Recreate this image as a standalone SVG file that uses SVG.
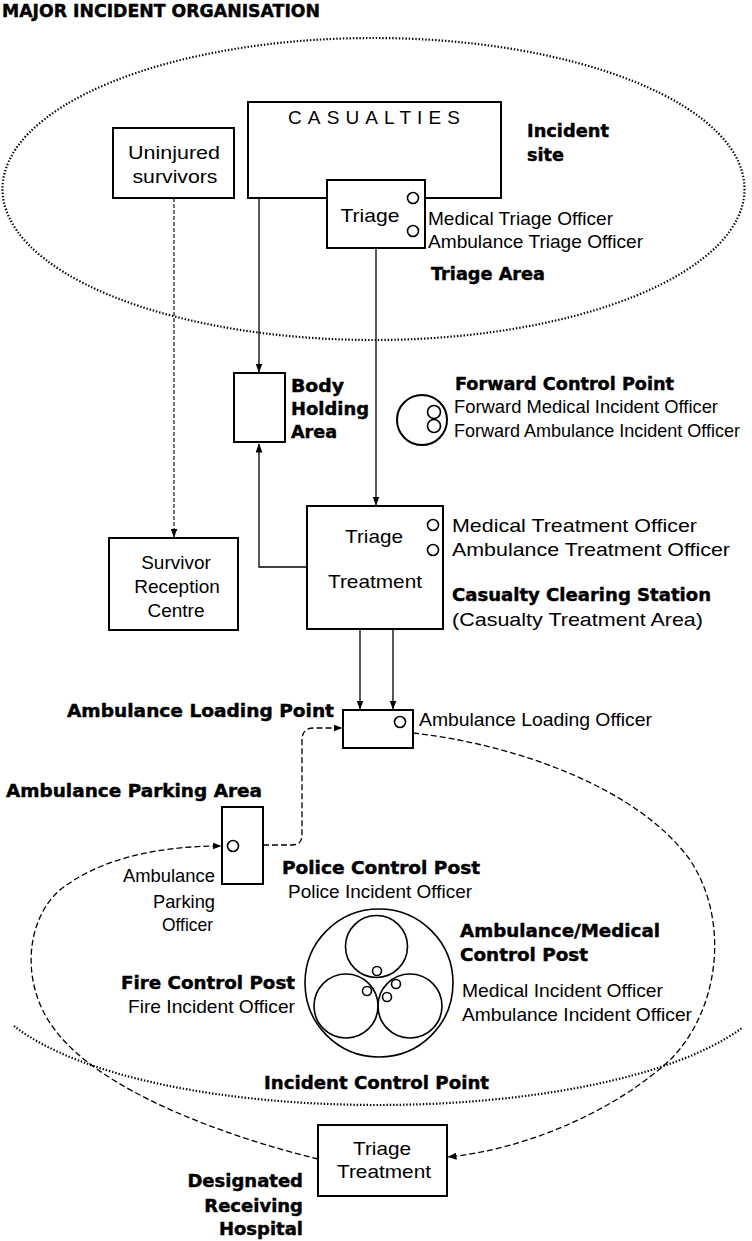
<svg xmlns="http://www.w3.org/2000/svg" width="752" height="1241" viewBox="0 0 752 1241">
  <style>
    .box { fill: #fff; stroke: #000; stroke-width: 2; }
    .ring { fill: none; stroke: #000; stroke-width: 1.6; }
    .ln { fill: none; stroke: #000; stroke-width: 1.3; }
    .dash { fill: none; stroke: #000; stroke-width: 1.3; stroke-dasharray: 6 3; }
    .fine { fill: none; stroke: #000; stroke-width: 1.1; stroke-dasharray: 4 2; }
    .dot { fill: none; stroke: #000; stroke-width: 2.2; stroke-dasharray: 1.4 1.9; }
    .t { font-family: "Liberation Sans", Arial, sans-serif; font-size: 19px; fill: #000; }
    .b { font-family: "DejaVu Sans", "Liberation Sans", sans-serif; font-weight: bold; font-size: 18px; fill: #000; stroke: #000; stroke-width: 0.45; }
  </style>
  <defs>
    <marker id="arr" markerUnits="userSpaceOnUse" markerWidth="9" markerHeight="7" refX="8.5" refY="3.5" orient="auto">
      <path d="M0,0 L9,3.5 L0,7 Z" fill="#000"/>
    </marker>
  </defs>

  <rect width="752" height="1241" fill="#fff"/>

  <text class="b" x="2" y="17" font-size="16.5" textLength="318" lengthAdjust="spacingAndGlyphs">MAJOR INCIDENT ORGANISATION</text>

  <!-- zone boundaries -->
  <g id="zones">
    <ellipse class="dot" cx="373.5" cy="189" rx="371" ry="151"/>
    <path class="dot" d="M14 1026 C150 1131 600 1131 742 1028"/>
  </g>

  <!-- flows between areas -->
  <g id="connectors">
    <line class="ln" x1="322" y1="137" x2="343" y2="179" marker-end="url(#arr)"/>
    <line class="ln" x1="375" y1="137" x2="375" y2="179" marker-end="url(#arr)"/>
    <line class="ln" x1="428" y1="137" x2="407" y2="179" marker-end="url(#arr)"/>
    <line class="ln" x1="259" y1="198" x2="259" y2="372" marker-end="url(#arr)"/>
    <line class="ln" x1="376" y1="248" x2="376" y2="505" marker-end="url(#arr)"/>
    <path class="ln" d="M307 567 L259 567 L259 444" marker-end="url(#arr)"/>
    <line class="fine" x1="174" y1="198" x2="174" y2="537" marker-end="url(#arr)"/>
    <line class="ln" x1="360" y1="629" x2="360" y2="709" marker-end="url(#arr)"/>
    <line class="ln" x1="393" y1="629" x2="393" y2="709" marker-end="url(#arr)"/>
    <path class="dash" d="M263 845 L292 845 Q302 845 302 835 L302 740 Q302 728 314 728 L342 728" marker-end="url(#arr)"/>
    <path class="dash" d="M413 733 C520 745 640 790 690 860 C730 920 720 1010 670 1060 C610 1115 520 1150 448 1157" marker-end="url(#arr)"/>
    <path class="dash" d="M318 1159 C220 1135 100 1090 55 1030 C20 985 25 920 60 890 C100 858 160 846 221 846" marker-end="url(#arr)"/>
  </g>

  <g id="casualties">
    <rect class="box" x="248" y="102" width="253" height="96"/>
    <text class="t" x="374" y="124" font-size="16.5" text-anchor="middle" textLength="172" lengthAdjust="spacing">CASUALTIES</text>
  </g>

  <g id="incident-site-label">
    <text class="b" x="527" y="137" textLength="82" lengthAdjust="spacingAndGlyphs">Incident</text>
    <text class="b" x="527" y="161" textLength="37" lengthAdjust="spacingAndGlyphs">site</text>
  </g>

  <g id="uninjured">
    <rect class="box" x="113" y="128" width="121" height="70"/>
    <text class="t" x="174" y="159" text-anchor="middle" textLength="92" lengthAdjust="spacingAndGlyphs">Uninjured</text>
    <text class="t" x="175" y="183" text-anchor="middle" textLength="85" lengthAdjust="spacingAndGlyphs">survivors</text>
  </g>

  <g id="triage-area">
    <rect class="box" x="327" y="180" width="98" height="68"/>
    <text class="t" x="370" y="222" text-anchor="middle" textLength="59" lengthAdjust="spacingAndGlyphs">Triage</text>
    <circle class="ring" cx="413" cy="198" r="5.5"/>
    <circle class="ring" cx="413" cy="231" r="5.5"/>
    <text class="t" x="428" y="225" textLength="185" lengthAdjust="spacingAndGlyphs">Medical Triage Officer</text>
    <text class="t" x="428" y="248" textLength="215" lengthAdjust="spacingAndGlyphs">Ambulance Triage Officer</text>
    <text class="b" x="431" y="280" textLength="114" lengthAdjust="spacingAndGlyphs">Triage Area</text>
  </g>

  <g id="body-holding">
    <rect class="box" x="234" y="373" width="51" height="69"/>
    <text class="b" x="291" y="392" textLength="53" lengthAdjust="spacingAndGlyphs">Body</text>
    <text class="b" x="291" y="415" textLength="78" lengthAdjust="spacingAndGlyphs">Holding</text>
    <text class="b" x="291" y="438" textLength="46" lengthAdjust="spacingAndGlyphs">Area</text>
  </g>

  <g id="forward-control">
    <circle cx="422" cy="420" r="25" fill="none" stroke="#000" stroke-width="2"/>
    <circle class="ring" cx="434" cy="412" r="6.5"/>
    <circle class="ring" cx="434" cy="426" r="6.5"/>
    <text class="b" x="455" y="390" textLength="219" lengthAdjust="spacingAndGlyphs">Forward Control Point</text>
    <text class="t" x="454" y="413" font-size="17" textLength="264" lengthAdjust="spacingAndGlyphs">Forward Medical Incident Officer</text>
    <text class="t" x="454" y="437" font-size="17" textLength="286" lengthAdjust="spacingAndGlyphs">Forward Ambulance Incident Officer</text>
  </g>

  <g id="casualty-clearing">
    <rect class="box" x="307" y="506" width="136" height="123"/>
    <text class="t" x="374" y="543" text-anchor="middle" textLength="58" lengthAdjust="spacingAndGlyphs">Triage</text>
    <text class="t" x="375" y="588" text-anchor="middle" textLength="94" lengthAdjust="spacingAndGlyphs">Treatment</text>
    <circle class="ring" cx="433" cy="525" r="5.5"/>
    <circle class="ring" cx="433" cy="550" r="5.5"/>
    <text class="t" x="452" y="532" textLength="245" lengthAdjust="spacingAndGlyphs">Medical Treatment Officer</text>
    <text class="t" x="452" y="556" textLength="278" lengthAdjust="spacingAndGlyphs">Ambulance Treatment Officer</text>
    <text class="b" x="452" y="601" textLength="259" lengthAdjust="spacingAndGlyphs">Casualty Clearing Station</text>
    <text class="t" x="452" y="626" textLength="251" lengthAdjust="spacingAndGlyphs">(Casualty Treatment Area)</text>
  </g>

  <g id="survivor-reception">
    <rect class="box" x="109" y="538" width="129" height="92"/>
    <text class="t" x="176" y="569" text-anchor="middle">Survivor</text>
    <text class="t" x="177" y="593" text-anchor="middle">Reception</text>
    <text class="t" x="176" y="617" text-anchor="middle">Centre</text>
  </g>

  <g id="loading-point">
    <rect class="box" x="343" y="710" width="70" height="38"/>
    <circle class="ring" cx="400" cy="722" r="5.5"/>
    <text class="b" x="334" y="717" text-anchor="end" textLength="267" lengthAdjust="spacingAndGlyphs">Ambulance Loading Point</text>
    <text class="t" x="419" y="726" textLength="233" lengthAdjust="spacingAndGlyphs">Ambulance Loading Officer</text>
  </g>

  <g id="parking-area">
    <text class="b" x="6" y="797" textLength="256" lengthAdjust="spacingAndGlyphs">Ambulance Parking Area</text>
    <rect class="box" x="222" y="807" width="41" height="77"/>
    <circle class="ring" cx="233" cy="846" r="5.5"/>
    <text class="t" x="215" y="882" text-anchor="end" textLength="92" lengthAdjust="spacingAndGlyphs">Ambulance</text>
    <text class="t" x="215" y="908" text-anchor="end" textLength="62" lengthAdjust="spacingAndGlyphs">Parking</text>
    <text class="t" x="213" y="931" text-anchor="end" textLength="51" lengthAdjust="spacingAndGlyphs">Officer</text>
  </g>

  <g id="police-control">
    <text class="b" x="282" y="874" textLength="198" lengthAdjust="spacingAndGlyphs">Police Control Post</text>
    <text class="t" x="288" y="898" textLength="184" lengthAdjust="spacingAndGlyphs">Police Incident Officer</text>
  </g>

  <g id="incident-control">
    <circle class="ring" cx="379" cy="983" r="74"/>
    <circle class="ring" cx="376.5" cy="946.5" r="31"/>
    <circle class="ring" cx="346" cy="1006" r="32"/>
    <circle class="ring" cx="410" cy="1006" r="32"/>
    <circle class="ring" cx="377" cy="971" r="4.5"/>
    <circle class="ring" cx="367" cy="991" r="4.5"/>
    <circle class="ring" cx="396" cy="984" r="4.5"/>
    <circle class="ring" cx="387" cy="997" r="4.5"/>
    <text class="b" x="460" y="937" textLength="200" lengthAdjust="spacingAndGlyphs">Ambulance/Medical</text>
    <text class="b" x="460" y="961" textLength="128" lengthAdjust="spacingAndGlyphs">Control Post</text>
    <text class="t" x="462" y="997" textLength="201" lengthAdjust="spacingAndGlyphs">Medical Incident Officer</text>
    <text class="t" x="462" y="1021" textLength="230" lengthAdjust="spacingAndGlyphs">Ambulance Incident Officer</text>
    <text class="b" x="295" y="989" text-anchor="end" textLength="174" lengthAdjust="spacingAndGlyphs">Fire Control Post</text>
    <text class="t" x="295" y="1013" text-anchor="end" textLength="167" lengthAdjust="spacingAndGlyphs">Fire Incident Officer</text>
    <text class="b" x="264" y="1089" textLength="225" lengthAdjust="spacingAndGlyphs">Incident Control Point</text>
  </g>

  <g id="receiving-hospital">
    <rect class="box" x="318" y="1125" width="129" height="71"/>
    <text class="t" x="382" y="1155" text-anchor="middle" textLength="58" lengthAdjust="spacingAndGlyphs">Triage</text>
    <text class="t" x="384" y="1178" text-anchor="middle" textLength="94" lengthAdjust="spacingAndGlyphs">Treatment</text>
    <text class="b" x="303" y="1187" text-anchor="end">Designated</text>
    <text class="b" x="303" y="1212" text-anchor="end">Receiving</text>
    <text class="b" x="303" y="1235" text-anchor="end">Hospital</text>
  </g>
</svg>
